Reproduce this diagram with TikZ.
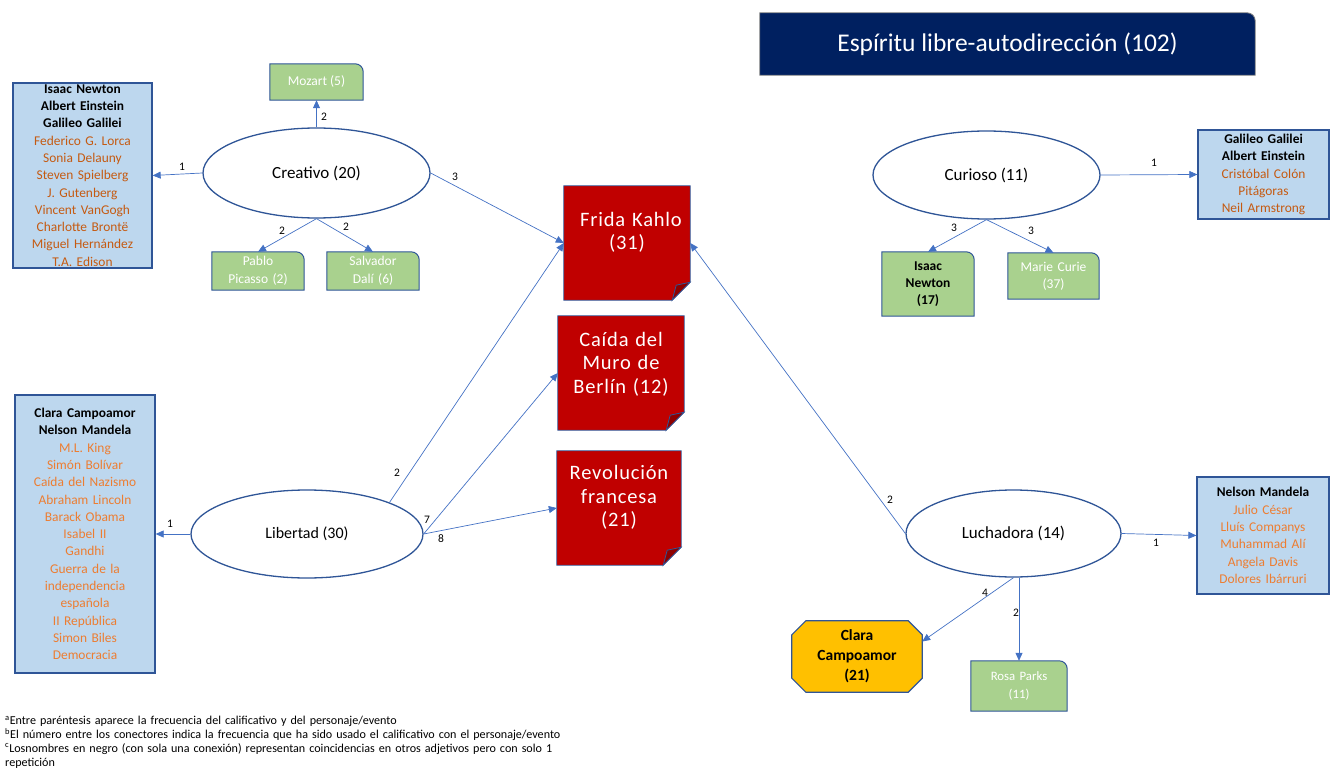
\documentclass[tikz,border=0pt]{standalone}
\usepackage{fontspec}
\setmainfont{Carlito}
\usetikzlibrary{arrows.meta,shapes.geometric,backgrounds}
\definecolor{navy}{HTML}{002060}
\definecolor{bord}{HTML}{2F5597}
\definecolor{connc}{HTML}{4472C4}
\definecolor{bluefill}{HTML}{BDD7EE}
\definecolor{greenfill}{HTML}{A9D18E}
\definecolor{redfill}{HTML}{C00000}
\definecolor{folddark}{HTML}{8E0000}
\definecolor{orangeA}{HTML}{C55A11}
\definecolor{orangeB}{HTML}{ED7D31}
\definecolor{goldfill}{HTML}{FFC000}
\newcommand\mygbox[1]{\filldraw[fill=greenfill,draw=bord,line width=1pt] (#1.south west) -- (#1.north west) -- ([xshift=-8pt]#1.north east) arc[start angle=90,end angle=0,radius=8pt] -- (#1.south east) -- cycle;}
\newcommand\myrbox[1]{\filldraw[fill=redfill,draw=bord,line width=0.8pt] (#1.south west) -- (#1.north west) -- (#1.north east) -- ([yshift=18pt]#1.south east) -- ([xshift=-18pt]#1.south east) -- cycle;
\filldraw[fill=folddark,draw=bord,line width=0.8pt] ([xshift=-18pt]#1.south east) -- ([xshift=-14pt,yshift=15pt]#1.south east) -- ([yshift=18pt]#1.south east) -- cycle;}
\begin{document}
\begin{tikzpicture}[x=1pt,y=-1pt,
  ell/.style={ellipse, draw=bord, line width=1.3pt, fill=white, inner sep=0pt, font=\fontsize{17}{19}\selectfont},
  listbox/.style={rectangle, draw=bord, line width=1.3pt, fill=bluefill, inner sep=0pt, align=center, font=\fontsize{13.4}{17.3}\selectfont},
  gtext/.style={rectangle, inner sep=0pt, align=center, font=\fontsize{13.5}{18}\selectfont},
  rtext/.style={rectangle, inner sep=0pt, align=center, text=white, font=\fontsize{20.5}{23.5}\selectfont\addfontfeature{LetterSpace=4}},
  conn/.style={draw=connc, line width=0.7pt, -{Triangle[length=8pt,width=7pt]}},
  lab/.style={inner sep=1pt, font=\fontsize{11.5}{13}\selectfont}]
\useasboundingbox (0,0) rectangle (1330,770);

% title
\node[rectangle, inner sep=0pt, minimum width=495pt, minimum height=62pt, text=white, font=\fontsize{25.5}{28}\selectfont] (title) at (1007.5,44) {Espíritu libre-autodirección (102)};

% ellipses
\node[ell, minimum width=227pt, minimum height=90pt] (creativo) at (316.5,173) {Creativo (20)};
\node[ell, minimum width=227pt, minimum height=88pt] (curioso) at (986.5,175) {Curioso (11)};
\node[ell, minimum width=232pt, minimum height=88pt, font=\fontsize{16}{19}\selectfont] (libertad) at (307,534) {Libertad (30)};
\node[ell, minimum width=215pt, minimum height=87pt] (luchadora) at (1013.5,533.5) {Luchadora (14)};

% blue lists
\node[listbox, minimum width=139pt, minimum height=185pt, text width=139pt] (L1) at (82.5,175.5)
 {\textbf{Isaac Newton}\\\textbf{Albert Einstein}\\\textbf{Galileo Galilei}\\\color{orangeA}Federico G. Lorca\\Sonia Delauny\\Steven Spielberg\\J. Gutenberg\\Vincent VanGogh\\Charlotte Brontë\\Miguel Hernández\\T.A. Edison};
\node[listbox, minimum width=140pt, minimum height=278pt, text width=140pt] (L2) at (85,534)
 {\textbf{Clara Campoamor}\\\textbf{Nelson Mandela}\\\color{orangeB}M.L. King\\Simón Bolívar\\Caída del Nazismo\\Abraham Lincoln\\Barack Obama\\Isabel II\\Gandhi\\Guerra de la\\independencia\\española\\II República\\Simon Biles\\Democracia};
\node[listbox, minimum width=131pt, minimum height=89pt, text width=131pt] (R1) at (1263.5,174.5)
 {\textbf{Galileo Galilei}\\\textbf{Albert Einstein}\\\color{orangeA}Cristóbal Colón\\Pitágoras\\Neil Armstrong};
\node[listbox, minimum width=132pt, minimum height=117pt, text width=132pt] (R2) at (1263,535.5)
 {\textbf{Nelson Mandela}\\\color{orangeB}Julio César\\Lluís Companys\\Muhammad Alí\\Angela Davis\\Dolores Ibárruri};

% green boxes
\node[gtext, minimum width=93pt, minimum height=36pt, text=white] (mozart) at (316.5,82) {Mozart (5)};
\node[gtext, minimum width=92pt, minimum height=38pt, text width=92pt, text=white] (picasso) at (258,271) {Pablo\\Picasso (2)};
\node[gtext, minimum width=92pt, minimum height=38pt, text width=92pt, text=white] (dali) at (373,271) {Salvador\\Dalí (6)};
\node[gtext, minimum width=92pt, minimum height=64pt, text width=92pt, font=\fontsize{13.5}{17}\selectfont\bfseries] (newton) at (928,284) {Isaac\\Newton\\(17)};
\node[gtext, minimum width=91pt, minimum height=46pt, text width=91pt, text=white, font=\fontsize{13.5}{17}\selectfont] (curie) at (1053.5,276) {Marie Curie\\(37)};
\node[gtext, minimum width=96pt, minimum height=50pt, text width=96pt, text=white, font=\fontsize{12.8}{18}\selectfont] (rosa) at (1019,686) {Rosa Parks\\(11)};

% red boxes
\node[rtext, minimum width=126pt, minimum height=114pt, text width=126pt] (frida) at (627,243) {\hspace*{8pt}Frida Kahlo\\(31)\par\vspace*{21pt}};
\node[rtext, minimum width=126pt, minimum height=114pt, text width=126pt] (caida) at (621,373) {Caída del\\Muro de\\Berlín (12)\par\vspace*{18pt}};
\node[rtext, minimum width=124pt, minimum height=114pt, text width=124pt] (revol) at (619,508) {Revolución\\francesa\\(21)\par\vspace*{21pt}};

% octagon
\node[rectangle, inner sep=0pt, minimum width=130pt, minimum height=71pt, text width=130pt, align=center, font=\fontsize{15.5}{20}\selectfont\bfseries] (clara) at (857,656.5) {Clara\\Campoamor\\(21)};

\begin{pgfonlayer}{background}
\filldraw[fill=navy,draw=gray,line width=0.8pt] (title.south west) -- (title.north west) -- ([xshift=-8pt]title.north east) arc[start angle=90,end angle=0,radius=8pt] -- (title.south east) -- cycle;
\mygbox{mozart}\mygbox{picasso}\mygbox{dali}\mygbox{newton}\mygbox{curie}\mygbox{rosa}
\myrbox{frida}\myrbox{caida}\myrbox{revol}
\filldraw[fill=goldfill,draw=bord,line width=1.2pt]
  ([xshift=14pt]clara.north west) -- ([xshift=-14pt]clara.north east) -- ([yshift=-14pt]clara.north east)
  -- ([yshift=14pt]clara.south east) -- ([xshift=-14pt]clara.south east) -- ([xshift=14pt]clara.south west)
  -- ([yshift=14pt]clara.south west) -- ([yshift=-14pt]clara.north west) -- cycle;
\end{pgfonlayer}

% connectors
\draw[conn] (creativo.west) -- (L1.east);
\draw[conn] (creativo.north) -- (mozart.south);
\draw[conn] (creativo.south) -- (picasso.north);
\draw[conn] (creativo.south) -- (dali.north);
\draw[conn] (creativo.east) -- (frida.west);
\draw[conn] (libertad.north east) -- (frida.west);
\draw[conn] (libertad.east) -- (caida.west);
\draw[conn] (libertad.east) -- (revol.west);
\draw[conn] (libertad.west) -- (L2.east);
\draw[conn] (curioso.east) -- (R1.west);
\draw[conn] (curioso.south) -- (newton.north);
\draw[conn] (curioso.south) -- (curie.north);
\draw[conn] (luchadora.west) -- (frida.east);
\draw[conn] (luchadora.east) -- (R2.west);
\draw[conn] (luchadora.south) -- ([yshift=15pt]clara.east);
\draw[conn] (luchadora.south -| rosa.north) -- (rosa.north);

% labels
\node[lab] (l1) at (182,167) {1};
\node[lab] (l2) at (324,117) {2};
\node[lab] (l3) at (282,231) {2};
\node[lab] (l4) at (346,227) {2};
\node[lab] (l5) at (455,177) {3};
\node[lab] (l6) at (397,473) {2};
\node[lab] (l7) at (427,520) {7};
\node[lab] (l8) at (441,539) {8};
\node[lab] (l9) at (170,524) {1};
\node[lab] (l10) at (890,500) {2};
\node[lab] (l11) at (1156,543) {1};
\node[lab] (l12) at (985,593) {4};
\node[lab] (l13) at (1016,613) {2};
\node[lab] (l14) at (1154,163) {1};
\node[lab] (l15) at (954,228) {3};
\node[lab] (l16) at (1031,231) {3};

% footnotes
\node[anchor=north west, inner sep=0pt, text width=700pt, align=left, font=\fontsize{12.1}{13.8}\selectfont] (notes) at (5,716)
 {\textsuperscript{a}Entre paréntesis aparece la frecuencia del calificativo y del personaje/evento\\
  \textsuperscript{b}El número entre los conectores indica la frecuencia que ha sido usado el calificativo con el personaje/evento\\
  \textsuperscript{c}Losnombres en negro (con sola una conexión) representan coincidencias en otros adjetivos pero con solo 1\\
  repetición};
\end{tikzpicture}
\end{document}
